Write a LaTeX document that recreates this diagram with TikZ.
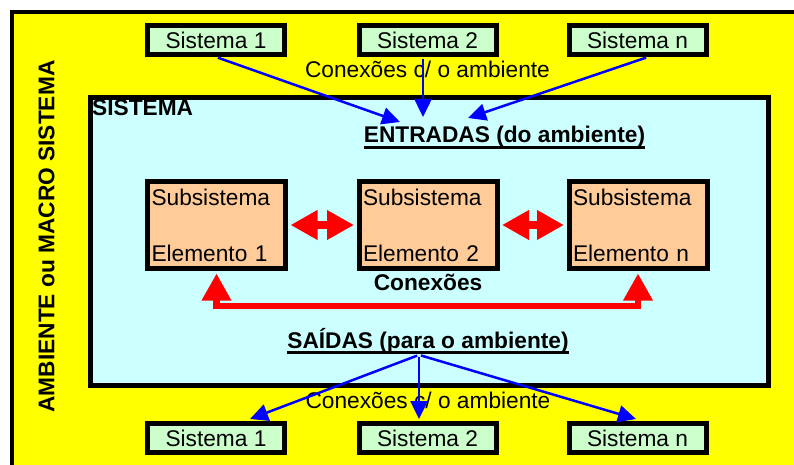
\documentclass[tikz,border=0pt]{standalone}
\usepackage{fontspec}
\usepackage{xcolor}
\usepackage{tikz}
\setmainfont{Liberation Sans}
\usetikzlibrary{positioning, arrows.meta}

\definecolor{ambyellow}{RGB}{255,255,0}
\definecolor{syscyan}{RGB}{204,255,255}
\definecolor{extgreen}{RGB}{204,255,204}
\definecolor{suborange}{RGB}{255,204,153}
\definecolor{linkblue}{RGB}{0,0,255}
\definecolor{linkred}{RGB}{255,0,0}
\newcommand{\sysfont}{\fontsize{22.7pt}{26pt}\selectfont}

\begin{document}
\begin{tikzpicture}[x=1pt, y=1pt, node distance=211.5pt]

            \tikzset{
                envbox/.style = {rectangle, anchor=north west, minimum width=820pt, minimum height=500pt, draw=black, line width=4pt, fill=ambyellow},
                sysbox/.style = {rectangle, anchor=north west, minimum width=678pt, minimum height=288pt, draw=black, line width=5pt, fill=syscyan},
                extbox/.style = {rectangle, minimum width=137pt, minimum height=29pt, inner sep=0pt, text centered, draw=black, line width=5pt, fill=extgreen, font=\sysfont},
                subbox/.style = {rectangle, text width=130pt, minimum height=87pt, inner xsep=4pt, inner ysep=0pt, align=left, draw=black, line width=5pt, fill=suborange, font=\sysfont},
                boldtxt/.style = {inner sep=0pt, font=\sysfont\bfseries},
                normtxt/.style = {inner sep=0pt, font=\sysfont},
                inarrow/.style = {line width=2.5pt, draw=linkblue, shorten <=2pt, -{Triangle[length=18pt, width=17pt]}},
                linkarrow/.style = {line width=8pt, draw=linkred, shorten <=2.5pt, shorten >=2.5pt, {Triangle[length=27pt, width=28pt]}-{Triangle[length=27pt, width=28pt]}},
                looparrow/.style = {line width=6.5pt, draw=linkred, shorten <=2.5pt, shorten >=2.5pt, {Triangle[length=27pt, width=28pt]}-{Triangle[length=27pt, width=28pt]}}
            }

            \clip (0,0) rectangle (794,-465);

            % ambiente e sistema
            \node (amb) [envbox] at (10,-10) {};
            \node (sis) [sysbox] at (87.5,-95) {};
            \node (ambtxt) [boldtxt, rotate=90] at (46.5,-236.5) {AMBIENTE ou MACRO SISTEMA};
            \node (sistxt) [boldtxt, anchor=base west] at (92,-116) {SISTEMA};

            % sistemas externos
            \node (s1top) [extbox] at (216,-40) {Sistema 1};
            \node (s2top) [extbox, right of=s1top] {Sistema 2};
            \node (s3top) [extbox, right of=s2top, node distance=210pt] {Sistema n};
            \node (s1bot) [extbox, below of=s1top, node distance=398pt] {Sistema 1};
            \node (s2bot) [extbox, below of=s2top, node distance=398pt] {Sistema 2};
            \node (s3bot) [extbox, below of=s3top, node distance=398pt] {Sistema n};

            % subsistemas
            \node (e1) [subbox] at (216.5,-225) {Subsistema\\[30pt]Elemento 1};
            \node (e2) [subbox, right of=e1] {Subsistema\\[30pt]Elemento 2};
            \node (e3) [subbox, right of=e2, node distance=210pt] {Subsistema\\[30pt]Elemento n};

            % textos
            \node (conT) [normtxt, anchor=base] at (427.5,-78) {Conexões c/ o ambiente};
            \node (entr) [boldtxt, anchor=base] at (504.5,-143) {ENTRADAS (do ambiente)};
            \node (conx) [boldtxt, anchor=base] at (428,-290) {Conexões};
            \node (sai) [boldtxt, anchor=base] at (428,-348) {SAÍDAS (para o ambiente)};
            \node (conB) [normtxt, anchor=base] at (428,-408) {Conexões c/ o ambiente};
            \draw [line width=2.5pt] ([yshift=-4.5pt]entr.base west) -- ([yshift=-4.5pt]entr.base east);
            \draw [line width=2.5pt] ([yshift=-4.5pt]sai.base west) -- ([yshift=-4.5pt]sai.base east);

            \coordinate (in1) at (400,-122);
            \coordinate (in2) at (423,-117);
            \coordinate (in3) at (468,-118);
            \coordinate (out1) at (250,-419);
            \coordinate (out2) at (419,-419);
            \coordinate (out3) at (636,-419);

            \draw [inarrow] (s1top.south) -- (in1);
            \draw [inarrow] ([xshift=-4.5pt]s2top.south) -- (in2);
            \draw [inarrow] ([xshift=10.5pt]s3top.south) -- (in3);
            \draw [inarrow] ([xshift=-9pt, yshift=-2pt]sai.south) -- (out1);
            \draw [inarrow] ([xshift=-9pt, yshift=-2pt]sai.south) -- (out2);
            \draw [inarrow] ([xshift=-9pt, yshift=-2pt]sai.south) -- (out3);

            \draw [linkarrow] (e1.east) -- (e2.west);
            \draw [linkarrow] (e2.east) -- (e3.west);
            \draw [looparrow] (e1.south) -- ++(0,-35) -| (e3.south);
        \end{tikzpicture}
\end{document}
